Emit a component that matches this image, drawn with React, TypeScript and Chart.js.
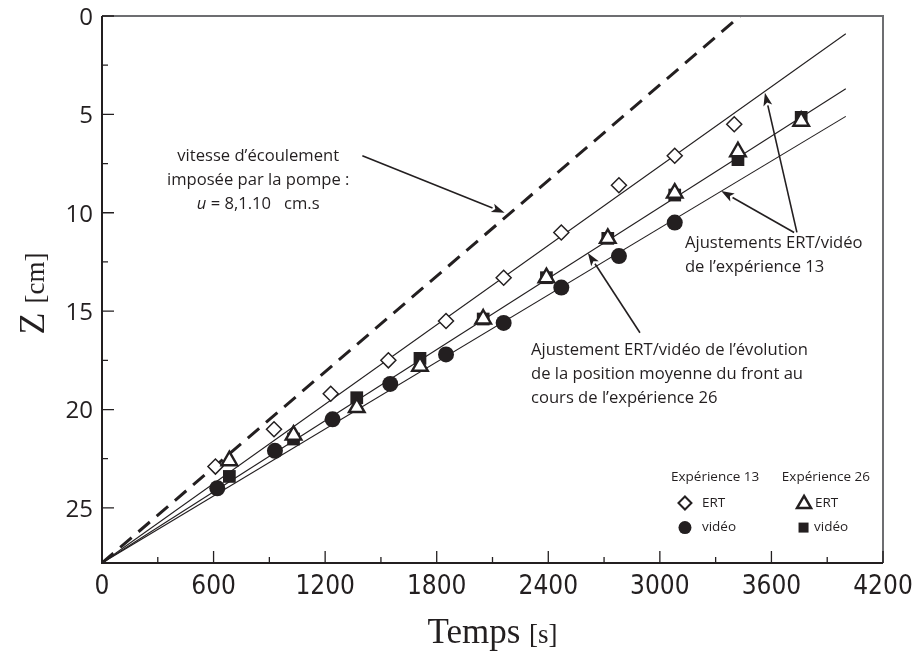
import { useEffect, useRef } from "react";
import { Chart, registerables } from "chart.js";

Chart.register(...registerables);

// ---- data ----
const xTickValues = [0, 600, 1200, 1800, 2400, 3000, 3600, 4200];
const yTickValues = [0, 5, 10, 15, 20, 25];

const fitTimes = [0, 4000];
const fit13ERTZ = [27.8, 0.9];
const fit26Z = [27.8, 3.7];
const fit13VideoZ = [27.8, 5.1];
const pumpTimes = [0, 3432];
const pumpZ = [27.8, 0];

const ert13T = [610, 925, 1230, 1540, 1850, 2160, 2470, 2780, 3080, 3400];
const ert13Z = [22.9, 21.0, 19.2, 17.5, 15.5, 13.3, 11.0, 8.6, 7.1, 5.5];
const video13T = [620, 930, 1240, 1550, 1850, 2160, 2470, 2780, 3080];
const video13Z = [24.0, 22.1, 20.5, 18.7, 17.2, 15.6, 13.8, 12.2, 10.5];
const ert26T = [685, 1030, 1370, 1710, 2050, 2390, 2720, 3080, 3420, 3760];
const ert26Z = [22.6, 21.3, 19.9, 17.8, 15.4, 13.3, 11.3, 9.0, 6.9, 5.35];
const video26T = [685, 1030, 1370, 1710, 2050, 2390, 2720, 3080, 3420, 3760];
const video26Z = [23.4, 21.5, 19.4, 17.4, 15.4, 13.3, 11.3, 9.1, 7.3, 5.15];

const INK = "#231f20";
const SANS = "'Open Sans', 'Noto Sans', sans-serif";
const SERIF = "'Liberation Serif', 'DejaVu Serif', serif";
const NARROW = "'Liberation Sans Narrow', 'DejaVu Sans Condensed', 'Liberation Sans', sans-serif";
const ANN = 16.6;

const pts = (xs: number[], ys: number[]) => xs.map((v, i) => ({ x: v, y: ys[i] }));

// annotation anchors in data coordinates (t [s], Z [cm])
const arrows = [
  { from: [1400, 7.1], to: [2165, 10.0] },
  { from: [3737, 11.0], to: [3565, 3.9] },
  { from: [3722, 11.0], to: [3330, 8.9] },
  { from: [2893, 16.1], to: [2613, 12.04] },
];

function drawArrow(ctx: CanvasRenderingContext2D, x1: number, y1: number, x2: number, y2: number) {
  const ang = Math.atan2(y2 - y1, x2 - x1);
  const len = 13, hw = 4.5;
  const bx = x2 - Math.cos(ang) * len, by = y2 - Math.sin(ang) * len;
  ctx.beginPath();
  ctx.moveTo(x1, y1);
  ctx.lineTo(bx, by);
  ctx.lineWidth = 1.6;
  ctx.strokeStyle = INK;
  ctx.stroke();
  ctx.beginPath();
  ctx.moveTo(x2, y2);
  ctx.lineTo(bx - Math.sin(ang) * hw, by + Math.cos(ang) * hw);
  ctx.lineTo(bx + Math.cos(ang) * 3, by + Math.sin(ang) * 3);
  ctx.lineTo(bx + Math.sin(ang) * hw, by - Math.cos(ang) * hw);
  ctx.closePath();
  ctx.fillStyle = INK;
  ctx.fill();
}

const overlay = {
  id: "overlay",
  afterDraw(chart: any) {
    const { ctx, chartArea, scales } = chart;
    const { left, right, top, bottom } = chartArea;
    const x = scales.x, y = scales.y;
    ctx.save();
    // frame
    ctx.lineCap = "butt";
    ctx.strokeStyle = "#6d6e71";
    ctx.lineWidth = 2;
    ctx.beginPath();
    ctx.moveTo(left, top);
    ctx.lineTo(right, top);
    ctx.lineTo(right, bottom);
    ctx.stroke();
    ctx.strokeStyle = INK;
    ctx.lineWidth = 2;
    ctx.beginPath();
    ctx.moveTo(left, top);
    ctx.lineTo(left, bottom);
    ctx.lineTo(right, bottom);
    ctx.stroke();
    // ticks (inward)
    ctx.lineWidth = 1.3;
    ctx.beginPath();
    xTickValues.forEach((v, i) => {
      const px = x.getPixelForValue(v);
      ctx.moveTo(px, bottom);
      ctx.lineTo(px, bottom - 12);
      if (i < xTickValues.length - 1) {
        const mx = x.getPixelForValue((v + xTickValues[i + 1]) / 2);
        ctx.moveTo(mx, bottom);
        ctx.lineTo(mx, bottom - 6);
      }
    });
    yTickValues.forEach((v, i) => {
      const py = y.getPixelForValue(v);
      ctx.moveTo(left, py);
      ctx.lineTo(left + 12, py);
      if (i < yTickValues.length - 1) {
        const my = y.getPixelForValue((v + yTickValues[i + 1]) / 2);
        ctx.moveTo(left, my);
        ctx.lineTo(left + 6, my);
      }
    });
    ctx.stroke();

    // tick labels
    ctx.fillStyle = INK;
    ctx.textBaseline = "middle";
    ctx.textAlign = "center";
    ctx.font = `26px ${NARROW}`;
    xTickValues.forEach((v) => ctx.fillText(String(v), x.getPixelForValue(v), bottom + 24));
    ctx.textAlign = "right";
    ctx.font = `24px ${SANS}`;
    yTickValues.forEach((v) => ctx.fillText(String(v), left - 9, y.getPixelForValue(v) + 2));

    // axis titles
    ctx.textBaseline = "alphabetic";
    ctx.textAlign = "left";
    {
      ctx.font = `35px ${SERIF}`;
      const w1 = ctx.measureText("Temps ").width;
      ctx.font = `27px ${SERIF}`;
      const w2 = ctx.measureText("[s]").width;
      const cx = (left + right) / 2;
      const sx = cx - (w1 + w2) / 2;
      ctx.font = `35px ${SERIF}`;
      ctx.fillText("Temps ", sx, 643);
      ctx.font = `27px ${SERIF}`;
      ctx.fillText("[s]", sx + w1, 643);
    }
    {
      ctx.save();
      ctx.translate(44, (top + bottom) / 2 + 4);
      ctx.rotate(-Math.PI / 2);
      ctx.font = `36px ${SERIF}`;
      const w1 = ctx.measureText("Z ").width;
      ctx.font = `27px ${SERIF}`;
      const w2 = ctx.measureText("[cm]").width;
      const sx = -(w1 + w2) / 2;
      ctx.font = `36px ${SERIF}`;
      ctx.fillText("Z ", sx, 0);
      ctx.font = `27px ${SERIF}`;
      ctx.fillText("[cm]", sx + w1, 0);
      ctx.restore();
    }

    // annotation arrows
    arrows.forEach((a) => {
      drawArrow(
        ctx,
        x.getPixelForValue(a.from[0]), y.getPixelForValue(a.from[1]),
        x.getPixelForValue(a.to[0]), y.getPixelForValue(a.to[1])
      );
    });

    // annotation texts
    ctx.fillStyle = INK;
    ctx.textBaseline = "middle";
    ctx.font = `${ANN}px ${SANS}`;
    ctx.textAlign = "center";
    const vx = x.getPixelForValue(840);
    ctx.fillText("vitesse d\u2019écoulement", vx, y.getPixelForValue(7.15));
    ctx.fillText("imposée par la pompe :", vx, y.getPixelForValue(8.35));
    {
      const segs: [string, string][] = [
        ["u", `italic ${ANN}px ${SANS}`],
        [" = 8,1.10   ", `${ANN}px ${SANS}`],
        ["cm.s", `${ANN}px ${SANS}`],
      ];
      let tot = 0;
      segs.forEach(([t, f]) => { ctx.font = f; tot += ctx.measureText(t).width; });
      let sx = vx - tot / 2;
      ctx.textAlign = "left";
      const py = y.getPixelForValue(9.55);
      segs.forEach(([t, f]) => { ctx.font = f; ctx.fillText(t, sx, py); sx += ctx.measureText(t).width; });
    }
    ctx.textAlign = "left";
    ctx.font = `${ANN}px ${SANS}`;
    const ax = x.getPixelForValue(3135);
    ctx.fillText("Ajustements ERT/vidéo", ax, y.getPixelForValue(11.55));
    ctx.fillText("de l\u2019expérience 13", ax, y.getPixelForValue(12.75));
    const bx = x.getPixelForValue(2307);
    ctx.fillText("Ajustement ERT/vidéo de l\u2019évolution", bx, y.getPixelForValue(16.97));
    ctx.fillText("de la position moyenne du front au", bx, y.getPixelForValue(18.19));
    ctx.fillText("cours de l\u2019expérience 26", bx, y.getPixelForValue(19.41));

    // legend
    ctx.font = `13.5px ${SANS}`;
    ctx.textAlign = "center";
    const ly0 = y.getPixelForValue(23.45);
    ctx.fillText("Expérience 13", x.getPixelForValue(3297), ly0);
    ctx.fillText("Expérience 26", x.getPixelForValue(3893), ly0);
    const r1 = y.getPixelForValue(24.75), r2 = y.getPixelForValue(26.0);
    const c1 = x.getPixelForValue(3135), c2 = x.getPixelForValue(3770);
    ctx.textAlign = "left";
    ctx.fillText("ERT", c1 + 17, r1);
    ctx.fillText("vidéo", c1 + 17, r2);
    ctx.fillText("ERT", c2 + 12, r1);
    ctx.fillText("vidéo", c2 + 11, r2);
    // legend markers
    ctx.lineWidth = 2;
    ctx.strokeStyle = INK;
    ctx.fillStyle = "#fff";
    ctx.beginPath();
    ctx.moveTo(c1, r1 - 6.5); ctx.lineTo(c1 + 6.5, r1); ctx.lineTo(c1, r1 + 6.5); ctx.lineTo(c1 - 6.5, r1); ctx.closePath();
    ctx.fill(); ctx.stroke();
    ctx.fillStyle = INK;
    ctx.beginPath();
    ctx.arc(c1, r2, 6.5, 0, Math.PI * 2);
    ctx.fill();
    ctx.fillStyle = "#fff";
    ctx.lineWidth = 2.5;
    ctx.beginPath();
    ctx.moveTo(c2 + 1, r1 - 7); ctx.lineTo(c2 + 8, r1 + 5); ctx.lineTo(c2 - 6, r1 + 5); ctx.closePath();
    ctx.fill(); ctx.stroke();
    ctx.fillStyle = INK;
    ctx.fillRect(c2 - 4.5, r2 - 5, 10, 10);
    ctx.restore();
  },
};

export default function App() {
  const ref = useRef<HTMLCanvasElement | null>(null);
  useEffect(() => {
    if (!ref.current) return;
    const lineDs = (xs: number[], ys: number[], extra: any = {}) => ({
      data: pts(xs, ys),
      showLine: true,
      borderColor: INK,
      borderWidth: 1.1,
      pointRadius: 0,
      fill: false,
      ...extra,
    });
    const chart = new Chart(ref.current, {
      type: "scatter",
      data: {
        datasets: [
          {
            label: "ERT 26",
            data: pts(ert26T, ert26Z),
            pointStyle: "triangle",
            pointRadius: 9,
            backgroundColor: "#fff",
            borderColor: INK,
            borderWidth: 2.4,
          },
          {
            label: "vidéo 26",
            data: pts(video26T, video26Z),
            pointStyle: "rect",
            pointRadius: 9,
            backgroundColor: INK,
            borderColor: INK,
            borderWidth: 0,
          },
          {
            label: "ERT 13",
            data: pts(ert13T, ert13Z),
            pointStyle: "rectRot",
            pointRadius: 7.5,
            backgroundColor: "#fff",
            borderColor: INK,
            borderWidth: 1.5,
          },
          {
            label: "vidéo 13",
            data: pts(video13T, video13Z),
            pointStyle: "circle",
            pointRadius: 8,
            backgroundColor: INK,
            borderColor: INK,
            borderWidth: 0,
          },
          lineDs(fitTimes, fit13ERTZ),
          lineDs(fitTimes, fit26Z),
          lineDs(fitTimes, fit13VideoZ),
          lineDs(pumpTimes, pumpZ, { borderWidth: 3, borderDash: [15, 9] }),
        ] as any,
      },
      options: {
        animation: false,
        responsive: false,
        maintainAspectRatio: false,
        layout: { padding: { top: 16, right: 32, left: 0, bottom: 0 } },
        plugins: { legend: { display: false }, tooltip: { enabled: false } },
        scales: {
          x: {
            type: "linear",
            min: 0,
            max: 4200,
            afterBuildTicks: (s: any) => { s.ticks = xTickValues.map((v) => ({ value: v })); },
            afterFit: (s: any) => { s.height = 90; },
            grid: { display: false, drawTicks: false },
            border: { display: false },
            ticks: { display: false },
          },
          y: {
            type: "linear",
            reverse: true,
            min: 0,
            max: 27.8,
            afterBuildTicks: (s: any) => { s.ticks = yTickValues.map((v) => ({ value: v })); },
            afterFit: (s: any) => { s.width = 102; },
            grid: { display: false, drawTicks: false },
            border: { display: false },
            ticks: { display: false },
          },
        },
      } as any,
      plugins: [overlay],
    });
    return () => chart.destroy();
  }, []);
  return (
    <div style={{ position: "absolute", left: 0, top: 0, width: 915, height: 653, background: "#fff" }}>
      <canvas ref={ref} width={915} height={653} style={{ display: "block" }} />
    </div>
  );
}
